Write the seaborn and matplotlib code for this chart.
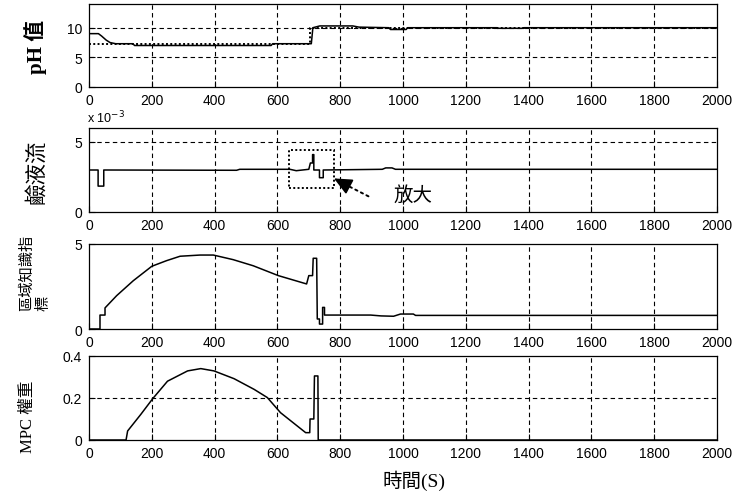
import matplotlib
matplotlib.use("Agg")
import matplotlib.pyplot as plt
import seaborn as sns
import numpy as np
from matplotlib.patches import Rectangle

# ---------------- data ----------------
# panel 1: pH value and set point
ph_t = [0, 30, 40, 55, 67, 85, 140, 145, 580, 585, 708, 713, 735, 840, 860, 955, 960, 1010, 1015, 1300, 1300, 1385, 1385, 2000]
ph_v = [9.0, 9.0, 8.6, 7.9, 7.5, 7.3, 7.3, 7.0, 7.0, 7.3, 7.3, 10.0, 10.3, 10.3, 10.1, 10.0, 9.7, 9.7, 10.0, 10.0, 9.9, 9.9, 10.0, 10.0]
sp_t = [0, 705, 705, 2000]
sp_v = [7.3, 7.3, 10.0, 10.0]

# panel 2: base flow (x 10^-3)
flow_t = [0, 29, 29, 47, 47, 470, 480, 500, 640, 660, 680, 700, 705, 712, 712, 716, 716, 734, 734, 746, 746, 934, 945, 965, 976, 2000]
flow_v = [3.0, 3.0, 1.85, 1.85, 3.0, 2.98, 3.05, 3.05, 3.05, 2.95, 3.0, 3.05, 3.5, 3.5, 4.1, 4.1, 3.0, 3.0, 2.45, 2.45, 3.0, 3.05, 3.15, 3.15, 3.05, 3.05]

# panel 3: regional knowledge index
rki_t = [0, 35, 35, 51, 51, 88, 141, 200, 247, 290, 354, 396, 459, 523, 603, 693, 700, 712, 714, 725, 727, 734, 734, 744, 744, 750, 750, 897, 930, 970, 992, 1033, 1040, 2000]
rki_v = [0.0, 0.0, 0.82, 0.82, 1.24, 1.96, 2.84, 3.69, 4.02, 4.28, 4.35, 4.35, 4.08, 3.72, 3.14, 2.65, 3.14, 3.14, 4.16, 4.16, 0.59, 0.59, 0.29, 0.29, 1.27, 1.27, 0.82, 0.82, 0.77, 0.75, 0.88, 0.88, 0.8, 0.8]

# panel 4: MPC weight
mpc_t = [0, 118, 123, 165, 203, 250, 314, 356, 398, 462, 526, 568, 610, 690, 703, 704, 716, 718, 729, 730, 2000]
mpc_v = [0.0, 0.0, 0.043, 0.122, 0.197, 0.28, 0.329, 0.34, 0.329, 0.292, 0.241, 0.202, 0.13, 0.035, 0.035, 0.1, 0.1, 0.305, 0.305, 0.0, 0.0]

x_ticks = [0, 200, 400, 600, 800, 1000, 1200, 1400, 1600, 1800, 2000]
y_ticks_1 = [0, 5, 10]
y_ticks_2 = [0, 5]
y_ticks_3 = [0, 5]
y_ticks_4 = [0, 0.2, 0.4]
y_ticklabels_4 = ["0", "0.2", "0.4"]

# ---------------- style ----------------
sns.set_style("white")
plt.rcParams['font.family'] = ['Liberation Sans', 'Noto Sans CJK TC', 'DejaVu Sans']
plt.rcParams['xtick.direction'] = 'in'
plt.rcParams['ytick.direction'] = 'in'

W, H = 740, 502
fig = plt.figure(figsize=(W / 100, H / 100), dpi=100)

def px_axes(top, bottom, left=89, right=717):
    return fig.add_axes([left / W, (H - bottom) / H, (right - left) / W, (bottom - top) / H])

ax1 = px_axes(5, 88)
ax2 = px_axes(129, 213)
ax3 = px_axes(245, 330)
ax4 = px_axes(357, 441)

grid_kw = dict(color='black', linewidth=0.8, linestyle=(0, (4, 3)))

def style(ax, ylim, yticks, yticklabels=None):
    ax.set_xlim(0, 2000)
    ax.set_ylim(*ylim)
    ax.set_xticks(x_ticks)
    ax.set_yticks(yticks)
    if yticklabels is not None:
        ax.set_yticklabels(yticklabels)
    ax.tick_params(axis='both', labelsize=10, length=4, width=0.8, color='black',
                   labelcolor='black', bottom=True, left=True)
    ax.tick_params(axis='x', pad=4)
    ax.tick_params(axis='y', pad=5)
    for x in x_ticks[1:-1]:
        ax.axvline(x, **grid_kw, zorder=1)
    for y in yticks:
        if ylim[0] < y < ylim[1]:
            ax.axhline(y, **grid_kw, zorder=1)
    for s in ax.spines.values():
        s.set_color('black')
        s.set_linewidth(0.9)
    ax.set_xlabel("")
    ax.set_ylabel("")

line_kw = dict(color='black', linewidth=1.1, estimator=None, sort=False, legend=False, zorder=3)

sns.lineplot(x=sp_t, y=sp_v, ax=ax1, color='black', linewidth=1.4, linestyle=(0, (1, 1.2)),
             estimator=None, sort=False, legend=False, zorder=2)
sns.lineplot(x=ph_t, y=ph_v, ax=ax1, **line_kw)
style(ax1, (0, 14), y_ticks_1)

sns.lineplot(x=flow_t, y=flow_v, ax=ax2, **line_kw)
style(ax2, (0, 6), y_ticks_2)

sns.lineplot(x=rki_t, y=rki_v, ax=ax3, **line_kw)
style(ax3, (0, 5), y_ticks_3)

sns.lineplot(x=mpc_t, y=mpc_v, ax=ax4, **line_kw)
style(ax4, (0, 0.4), y_ticks_4, y_ticklabels_4)

# zoom box + arrow in panel 2
ax2.add_patch(Rectangle((637, 1.73), 143, 2.72, fill=False, edgecolor='black',
                        linewidth=1.4, linestyle=(0, (1, 1.2)), zorder=4))
# dotted shaft
ax2.annotate("", xy=(815, 1.98), xytext=(890, 1.12),
             arrowprops=dict(arrowstyle='-', color='black', linewidth=1.4,
                             linestyle=(0, (1.2, 2)), shrinkA=0, shrinkB=0), zorder=5)
# solid head
ax2.annotate("", xy=(780, 2.4), xytext=(822, 1.9),
             arrowprops=dict(arrowstyle='-|>,head_length=1.1,head_width=0.5', color='black',
                             linewidth=1.2, shrinkA=0, shrinkB=0), zorder=5)
ax2.text(1032, 1.25, "放大", fontsize=14, family=['Noto Sans CJK TC', 'DejaVu Sans'],
         ha='center', va='center', color='black')

# exponent label
fig.text(87 / W, 1 - 123 / H, r"x 10$^{-3}$", fontsize=9, ha='left', va='baseline', color='black')

# y labels
lab_fam = ['Liberation Serif', 'Noto Sans CJK TC', 'DejaVu Sans']
fig.text(36 / W, 1 - 47 / H, "pH 值", rotation=90, fontsize=15, fontweight='bold',
         family=lab_fam, ha='center', va='center', color='black')
fig.text(37 / W, 1 - 172 / H, "鹼液流", rotation=90, fontsize=15.5,
         family=lab_fam, ha='center', va='center', color='black')
fig.text(35 / W, 1 - 273 / H, "區域知識指\n標", rotation=90, fontsize=11,
         family=lab_fam, ha='center', va='center', multialignment='left',
         linespacing=1.3, color='black')
fig.text(28 / W, 1 - 417 / H, "MPC 權重", rotation=90, fontsize=12,
         family=lab_fam, ha='center', va='center', color='black')
fig.text(414 / W, 1 - 481 / H, "時間(S)", fontsize=14,
         family=lab_fam, ha='center', va='center', color='black')

fig.savefig("out.png", dpi=100, facecolor='white')
